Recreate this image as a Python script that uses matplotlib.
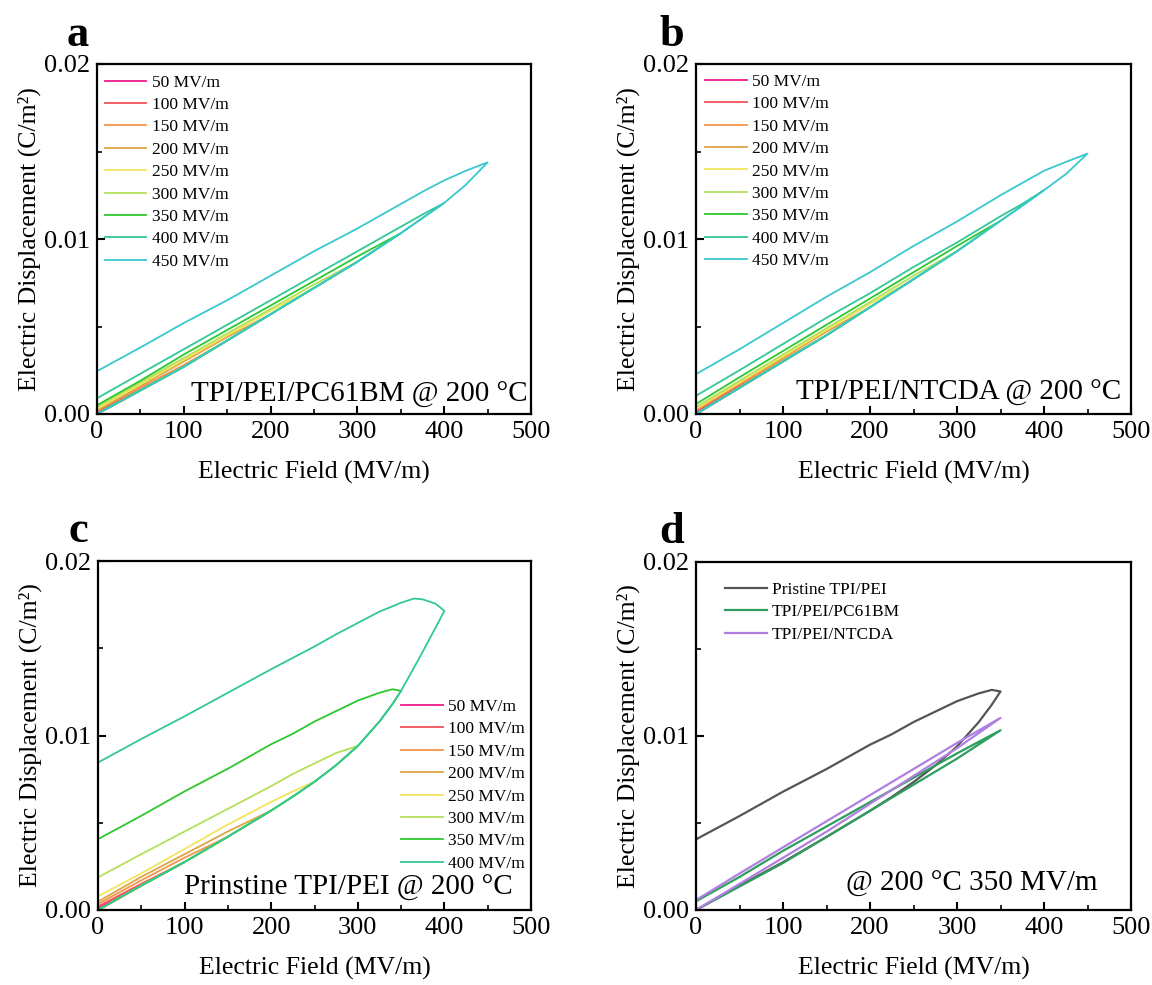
import matplotlib
matplotlib.use('Agg')
import matplotlib.pyplot as plt
from matplotlib.ticker import MultipleLocator, FormatStrFormatter

plt.rcParams['font.family'] = ['Liberation Serif', 'DejaVu Serif']

# field sampling points (MV/m)
grid_ab = [0, 50, 100, 150, 200, 250, 300, 350, 375, 400, 425, 450]
grid_c = [0, 50, 100, 150, 200, 225, 250, 275, 300, 325, 340, 350, 365, 375, 390, 400]

fields = [50, 100, 150, 200, 250, 300, 350, 400, 450]
field_colors = ['#F0198C', '#F2545B', '#F2944A', '#DCA546', '#F2E55C',
                '#B4E05A', '#2DC82D', '#32C896', '#38C8D0']

# TPI/PEI/PC61BM: charging branch (shared) + discharging branch of every loop
lower_a = [0, 0.00135, 0.0027, 0.0042, 0.0057, 0.0072, 0.0087, 0.01033, 0.0112, 0.01206, 0.0131, 0.01438]
upper_a = [
    [0.0001, 0.00135],
    [0.00015, 0.0014, 0.0027],
    [0.0002, 0.0015, 0.0028, 0.0042],
    [0.0002, 0.0016, 0.0030, 0.0044, 0.0057],
    [0.0003, 0.0017, 0.0031, 0.0045, 0.0059, 0.0072],
    [0.0004, 0.0018, 0.0032, 0.0046, 0.0060, 0.0074, 0.0087],
    [0.0005, 0.0019, 0.0034, 0.0048, 0.0062, 0.0076, 0.0090, 0.01033],
    [0.0009, 0.0023, 0.0037, 0.0051, 0.0065, 0.0079, 0.0093, 0.0107, 0.0114, 0.01206],
    [0.00245, 0.0038, 0.0052, 0.0065, 0.0079, 0.0093, 0.0106, 0.0120, 0.0127, 0.01335, 0.0139, 0.01438],
]

# TPI/PEI/NTCDA
lower_b = [0, 0.0015, 0.0030, 0.0045, 0.0061, 0.0077, 0.0093, 0.01104, 0.0119, 0.01279, 0.0137, 0.01488]
upper_b = [
    [0.0001, 0.0015],
    [0.0002, 0.0016, 0.0030],
    [0.0002, 0.0017, 0.0031, 0.0045],
    [0.0003, 0.0018, 0.0032, 0.0047, 0.0061],
    [0.0003, 0.0018, 0.0033, 0.0048, 0.0063, 0.0077],
    [0.0004, 0.0019, 0.0034, 0.0049, 0.0064, 0.0079, 0.0093],
    [0.00057, 0.0021, 0.0036, 0.0051, 0.0066, 0.0081, 0.0096, 0.01104],
    [0.00104, 0.0025, 0.0040, 0.0055, 0.0069, 0.0084, 0.0098, 0.0113, 0.0120, 0.01279],
    [0.00228, 0.0037, 0.0052, 0.0067, 0.0081, 0.0096, 0.0110, 0.0125, 0.0132, 0.0139, 0.0144, 0.01488],
]

# pristine TPI/PEI
lower_c = [0, 0.0014, 0.00275, 0.0042, 0.0057, 0.0065, 0.00735, 0.0083, 0.0094, 0.0108,
           0.0118, 0.01256, 0.0139, 0.0148, 0.0162, 0.01714]
upper_c = [
    [0.0001, 0.0014],
    [0.0002, 0.0015, 0.00275],
    [0.00034, 0.0017, 0.0030, 0.0042],
    [0.00048, 0.0019, 0.0032, 0.0045, 0.0057],
    [0.00078, 0.0021, 0.0035, 0.0049, 0.0062, 0.0068, 0.00735],
    [0.00187, 0.0032, 0.0045, 0.0058, 0.0071, 0.0078, 0.0084, 0.0090, 0.0094],
    [0.00406, 0.0054, 0.0068, 0.0081, 0.0095, 0.0101, 0.0108, 0.0114, 0.0120, 0.01245, 0.01265, 0.01256],
    [0.00845, 0.0098, 0.0111, 0.01245, 0.0138, 0.01445, 0.0151, 0.0158, 0.01645, 0.0171, 0.0174,
     0.01761, 0.01785, 0.0178, 0.01755, 0.01714],
]

samples = ['Pristine TPI/PEI', 'TPI/PEI/PC61BM', 'TPI/PEI/NTCDA']
sample_colors = ['#555555', '#2E9E5E', '#B07FE0']

W, H = 1152, 985


def box(l, t, r, b):
    return [l / W, 1 - b / H, (r - l) / W, (b - t) / H]


def draw_loop(ax, grid, lower, upper, color, label, lw=1.3):
    n = len(upper)
    e = grid[:n]
    ax.plot(e + e[::-1], lower[:n] + upper[::-1], color=color, lw=lw, label=label)


def style(ax):
    ax.set_xlim(0, 500)
    ax.set_ylim(0, 0.02)
    ax.xaxis.set_major_locator(MultipleLocator(100))
    ax.xaxis.set_minor_locator(MultipleLocator(50))
    ax.yaxis.set_major_locator(MultipleLocator(0.01))
    ax.yaxis.set_minor_locator(MultipleLocator(0.005))
    ax.yaxis.set_major_formatter(FormatStrFormatter('%.2f'))
    ax.tick_params(which='both', direction='in', top=False, right=False, labelsize=19, pad=5)
    ax.tick_params(which='major', length=6, width=1.5)
    ax.tick_params(which='minor', length=3.5, width=1.2)
    for s in ax.spines.values():
        s.set_linewidth(1.6)
    ax.set_xlabel('Electric Field (MV/m)', fontsize=18.5, labelpad=13)
    ax.set_ylabel('Electric Displacement (C/m²)', fontsize=18.5, labelpad=2)


fig = plt.figure(figsize=(W / 100, H / 100), dpi=100)
ax_a = fig.add_axes(box(97, 64, 531, 414))
ax_b = fig.add_axes(box(696, 64, 1131, 414))
ax_c = fig.add_axes(box(98, 561, 531, 910))
ax_d = fig.add_axes(box(696, 562, 1131, 910))

leg_kw = dict(frameon=False, fontsize=12.5, handlelength=2.4, handletextpad=0.3,
              labelspacing=0.36, borderpad=0, borderaxespad=0)

# a
for f, c, up in zip(fields, field_colors, upper_a):
    draw_loop(ax_a, grid_ab, lower_a, up, c, f'{f} MV/m')
style(ax_a)
ax_a.legend(loc='upper left', bbox_to_anchor=(0.018, 0.970), **leg_kw)
ax_a.text(0.993, 0.034, 'TPI/PEI/PC61BM @ 200 °C', transform=ax_a.transAxes,
          ha='right', va='baseline', fontsize=21)

# b
for f, c, up in zip(fields, field_colors, upper_b):
    draw_loop(ax_b, grid_ab, lower_b, up, c, f'{f} MV/m')
style(ax_b)
ax_b.legend(loc='upper left', bbox_to_anchor=(0.021, 0.972), **leg_kw)
ax_b.text(0.977, 0.040, 'TPI/PEI/NTCDA @ 200 °C', transform=ax_b.transAxes,
          ha='right', va='baseline', fontsize=21)

# c
for f, c, up in zip(fields[:8], field_colors[:8], upper_c):
    draw_loop(ax_c, grid_c, lower_c, up, c, f'{f} MV/m')
style(ax_c)
ax_c.legend(loc='upper left', bbox_to_anchor=(0.70, 0.605), **leg_kw)
ax_c.text(0.958, 0.043, 'Prinstine TPI/PEI @ 200 °C', transform=ax_c.transAxes,
          ha='right', va='baseline', fontsize=21)

# d: 350 MV/m loops of the three samples
draw_loop(ax_d, grid_c, lower_c, upper_c[6], sample_colors[0], samples[0], lw=1.6)
draw_loop(ax_d, grid_ab, lower_a, upper_a[6], sample_colors[1], samples[1], lw=1.6)
draw_loop(ax_d, grid_ab, lower_b, upper_b[6], sample_colors[2], samples[2], lw=1.6)
style(ax_d)
ax_d.legend(loc='upper left', bbox_to_anchor=(0.067, 0.943), **leg_kw)
ax_d.text(0.922, 0.055, '@ 200 °C 350 MV/m', transform=ax_d.transAxes,
          ha='right', va='baseline', fontsize=21)

for letter, x, y in [('a', 78, 46), ('b', 672, 46), ('c', 78, 542), ('d', 672, 543)]:
    fig.text(x / W, 1 - y / H, letter, fontsize=32, fontweight='bold',
             ha='center', va='baseline')

fig.savefig('out.png', dpi=100)
